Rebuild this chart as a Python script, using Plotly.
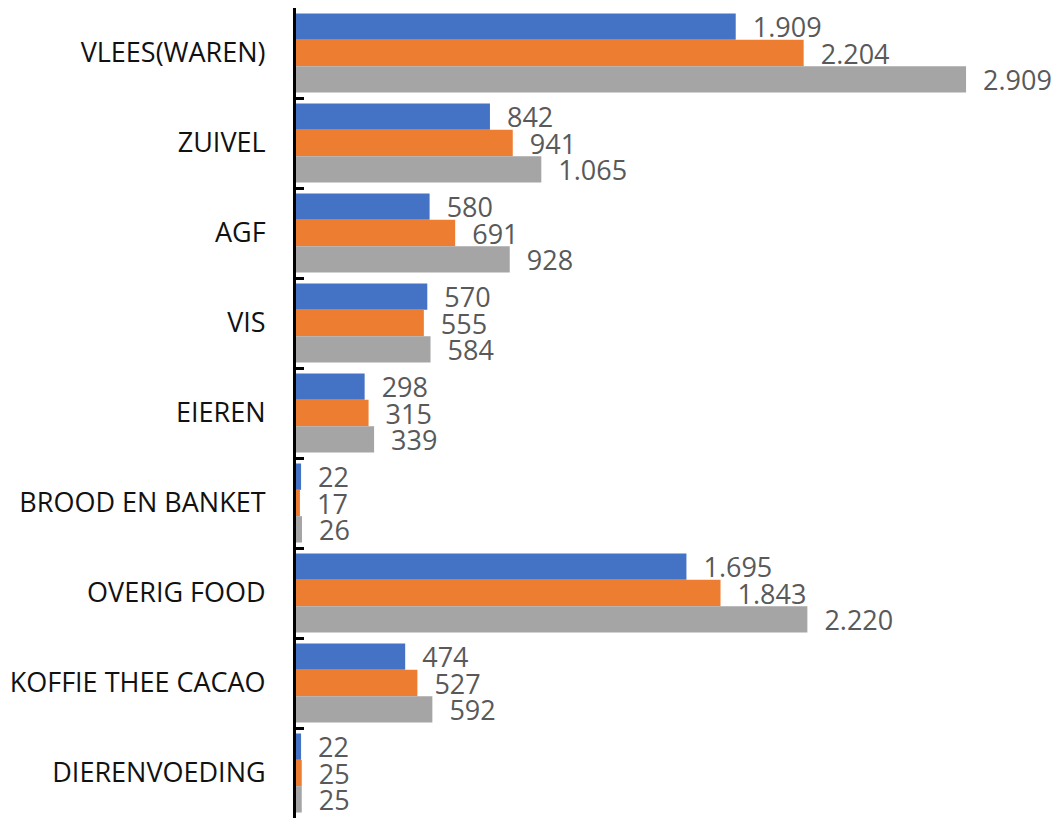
import plotly.graph_objects as go

categories = ["VLEES(WAREN)", "ZUIVEL", "AGF", "VIS", "EIEREN", "BROOD EN BANKET",
              "OVERIG FOOD", "KOFFIE THEE CACAO", "DIERENVOEDING"]
series_a = [1909, 842, 580, 570, 298, 22, 1695, 474, 22]
series_b = [2204, 941, 691, 555, 315, 17, 1843, 527, 25]
series_c = [2909, 1065, 928, 584, 339, 26, 2220, 592, 25]
series_names = ["Serie 1", "Serie 2", "Serie 3"]
colors = ["#4472C4", "#ED7D31", "#A5A5A5"]

fig = go.Figure()
for name, vals, col in zip(series_names, [series_a, series_b, series_c], colors):
    fig.add_trace(go.Bar(
        y=categories, x=vals, orientation="h", name=name,
        marker=dict(color=col, line=dict(width=0)),
        texttemplate="\u00a0\u00a0%{x:,}", textposition="outside",
        textfont=dict(size=27, color="#595959", family="Open Sans"),
        constraintext="none", cliponaxis=False,
    ))

fig.update_layout(
    width=1053, height=812,
    template="none",
    barmode="group", bargap=0.122, bargroupgap=0,
    separators=",.",
    showlegend=False,
    plot_bgcolor="white", paper_bgcolor="white",
    margin=dict(l=288, r=21, t=0, b=2, autoexpand=False),
    font=dict(family="Open Sans", size=27, color="#000000"),
    xaxis=dict(range=[0, 3230], visible=False, fixedrange=True, automargin=False),
    yaxis=dict(autorange="reversed", type="category", automargin=False,
               showline=True, linecolor="#000000", linewidth=3,
               ticks="inside", tickson="boundaries", ticklen=8, tickwidth=3,
               tickcolor="#000000", ticklabelstandoff=22,
               tickfont=dict(size=27, color="#111111", family="Open Sans"),
               showgrid=False, zeroline=False),
)

fig.write_html("out.html")
